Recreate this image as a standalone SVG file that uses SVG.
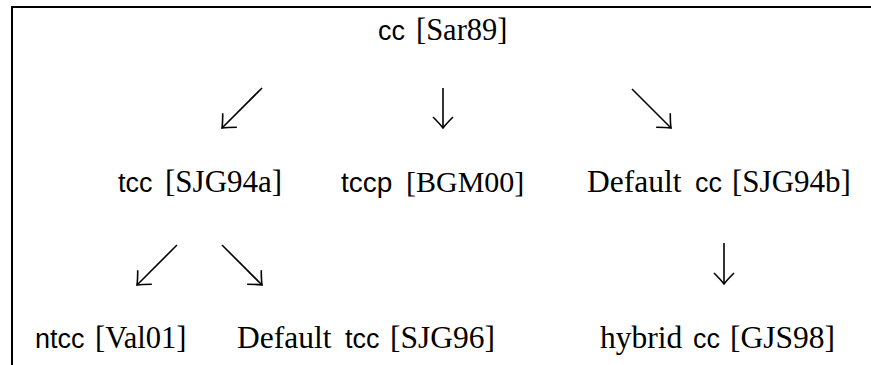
<svg xmlns="http://www.w3.org/2000/svg" width="871" height="365" viewBox="0 0 871 365">
<defs>
<marker id="ah" markerUnits="userSpaceOnUse" viewBox="-14 -12 16 24" refX="0" refY="0" markerWidth="16" markerHeight="24" orient="auto">
<path d="M-11,-10 Q-4,-3 0,0 Q-4,3 -11,10" fill="none" stroke="#000" stroke-width="1.6"/>
</marker>
</defs>
<rect width="871" height="365" fill="#fff"/>
<path d="M12,365 V7 H871" fill="none" stroke="#000" stroke-width="2"/>
<g id="n-cc">
<text x="378" y="40" font-family="'Liberation Sans', sans-serif" font-size="27">cc</text>
<text x="416" y="40" font-family="'Liberation Serif', serif" font-size="30.5">[Sar89]</text>
</g>
<g id="n-tcc">
<text x="118" y="192" font-family="'Liberation Sans', sans-serif" font-size="27">tcc</text>
<text x="165" y="192" font-family="'Liberation Serif', serif" font-size="31">[SJG94a]</text>
</g>
<g id="n-tccp">
<text x="341" y="192" font-family="'Liberation Sans', sans-serif" font-size="28">tccp</text>
<text x="406" y="192" font-family="'Liberation Serif', serif" font-size="30">[BGM00]</text>
</g>
<g id="n-defcc">
<text x="587" y="192" font-family="'Liberation Serif', serif" font-size="31.5">Default</text>
<text x="695" y="192" font-family="'Liberation Sans', sans-serif" font-size="27">cc</text>
<text x="732" y="192" font-family="'Liberation Serif', serif" font-size="31">[SJG94b]</text>
</g>
<g id="n-ntcc">
<text x="35" y="348" font-family="'Liberation Sans', sans-serif" font-size="27">ntcc</text>
<text x="95" y="348" font-family="'Liberation Serif', serif" font-size="30.5">[Val01]</text>
</g>
<g id="n-deftcc">
<text x="237" y="348" font-family="'Liberation Serif', serif" font-size="31.5">Default</text>
<text x="345" y="348" font-family="'Liberation Sans', sans-serif" font-size="27">tcc</text>
<text x="390" y="348" font-family="'Liberation Serif', serif" font-size="31.5">[SJG96]</text>
</g>
<g id="n-hybrid">
<text x="600" y="348" font-family="'Liberation Serif', serif" font-size="31.5">hybrid</text>
<text x="693" y="348" font-family="'Liberation Sans', sans-serif" font-size="27">cc</text>
<text x="730" y="348" font-family="'Liberation Serif', serif" font-size="31.5">[GJS98]</text>
</g>
<g id="connectors" fill="none" stroke="#000" stroke-width="1.6">
<line x1="262" y1="88" x2="222" y2="128" marker-end="url(#ah)"/>
<line x1="443" y1="88" x2="443" y2="128" marker-end="url(#ah)"/>
<line x1="632" y1="89" x2="671" y2="128" marker-end="url(#ah)"/>
<line x1="177" y1="245" x2="137" y2="285" marker-end="url(#ah)"/>
<line x1="222" y1="245" x2="262" y2="285" marker-end="url(#ah)"/>
<line x1="724" y1="243" x2="724" y2="284" marker-end="url(#ah)"/>
</g>
</svg>
